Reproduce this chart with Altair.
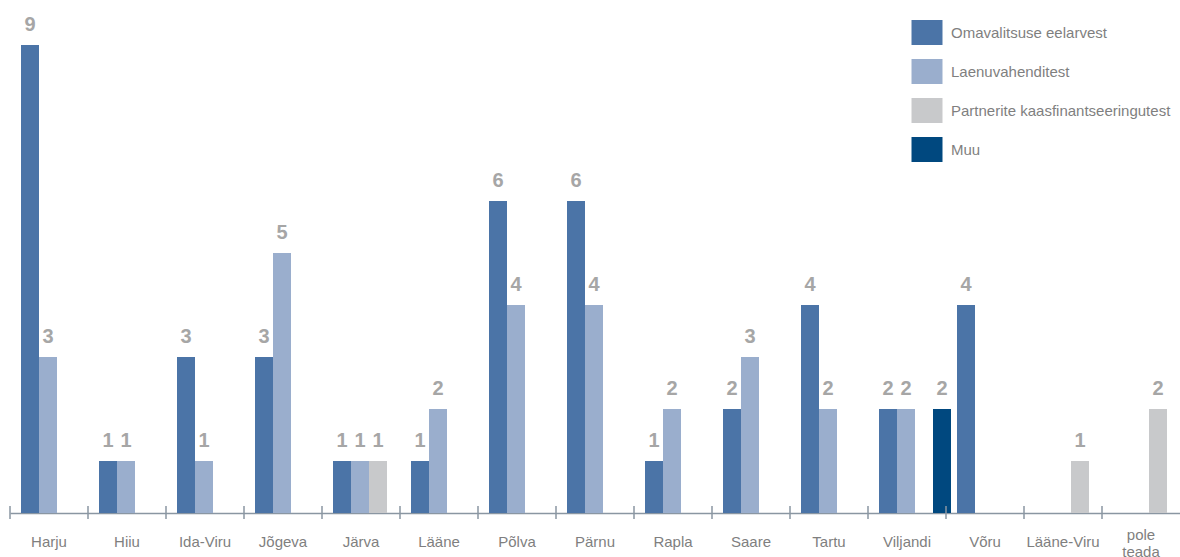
import altair as alt
import pandas as pd

counties = ["Harju", "Hiiu", "Ida-Viru", "Jõgeva", "Järva", "Lääne", "Põlva", "Pärnu",
            "Rapla", "Saare", "Tartu", "Viljandi", "Võru", "Lääne-Viru", "pole teada"]
series_names = ["Omavalitsuse eelarvest", "Laenuvahenditest",
                "Partnerite kaasfinantseeringutest", "Muu"]
series_colors = ["#4b74a7", "#9aaecd", "#c8c9cb", "#00487f"]

omavalitsus = [9, 1, 3, 3, 1, 1, 6, 6, 1, 2, 4, 2, 4, None, None]
laenud = [3, 1, 1, 5, 1, 2, 4, 4, 2, 3, 2, 2, None, None, None]
partnerid = [None, None, None, None, 1, None, None, None, None, None, None, None, None, 1, 2]
muu = [None, None, None, None, None, None, None, None, None, None, None, 2, None, None, None]

rows = []
for name, vals in zip(series_names, [omavalitsus, laenud, partnerid, muu]):
    for c, v in zip(counties, vals):
        if v is not None:
            rows.append({"county": c, "series": name, "value": v})
df = pd.DataFrame(rows)
ticks_df = pd.DataFrame({"county": counties})

x_enc = alt.X("county:N", sort=counties,
              scale=alt.Scale(domain=counties, paddingInner=0, paddingOuter=0),
              axis=alt.Axis(title=None, labelAngle=0, ticks=False, tickSize=0,
                            labelPadding={"condition": {"test": "datum.value == 'pole teada'", "value": 21},
                                          "value": 28},
                            labelBaseline="middle",
                            labelFont="Liberation Sans", labelFontSize=15,
                            labelColor="#7f7f7f", labelLineHeight=17,
                            labelExpr="datum.value == 'pole teada' ? ['pole','teada'] : datum.value",
                            domainColor="#8a96a2", domainWidth=1.5, grid=False))
xo_enc = alt.XOffset("series:N", sort=series_names,
                     scale=alt.Scale(domain=series_names, range=[11, 83],
                                     paddingInner=0, paddingOuter=0))
y_enc = alt.Y("value:Q", scale=alt.Scale(domain=[0, 9.865], nice=False, zero=True), axis=None)

bars = alt.Chart(df).mark_bar().encode(
    x=x_enc, xOffset=xo_enc, y=y_enc,
    color=alt.Color("series:N", sort=series_names,
                    scale=alt.Scale(domain=series_names, range=series_colors),
                    legend=alt.Legend(title=None, orient="none", legendX=904.5, legendY=20,
                                      symbolType="M-1.24,-1L1.24,-1L1.24,1L-1.24,1Z",
                                      symbolSize=625, symbolStrokeWidth=0,
                                      labelFont="Liberation Sans", labelFontSize=15,
                                      labelColor="#7f7f7f", labelOffset=11.5,
                                      rowPadding=14, padding=0, labelLimit=400)),
)

labels = alt.Chart(df).mark_text(
    font="Liberation Sans", fontSize=20, fontWeight="bold", color="#a6a6a6",
    baseline="alphabetic", dy=-14
).encode(x=x_enc, xOffset=xo_enc, y=y_enc, text=alt.Text("value:Q"))

tick_rules = alt.Chart(ticks_df).mark_rule(color="#8a96a2", strokeWidth=1.5).encode(
    x=alt.X("county:N", sort=counties, bandPosition=0),
    y=alt.value(506), y2=alt.value(519)
)

chart = alt.layer(bars, labels, tick_rules).properties(
    width=1170, height=513,
    autosize=alt.AutoSizeParams(type="none"),
    padding={"left": 10, "top": 0, "right": 0, "bottom": 44},
).configure_view(strokeWidth=0)

chart.save("out.html", embed_options={"renderer": "svg", "actions": False})
